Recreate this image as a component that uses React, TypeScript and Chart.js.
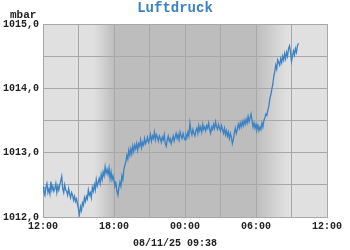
import React, { useEffect, useRef } from "react";
import { Chart, registerables } from "chart.js";

Chart.register(...registerables);

const TITLE = "Luftdruck";
const UNIT = "mbar";
const FOOTER = "08/11/25 09:38";
const X_TICK_LABELS = ["12:00", "18:00", "00:00", "06:00", "12:00"];
const Y_MIN = 1012;
const Y_MAX = 1015;
// samples every 5 minutes, hours after 12:00
const STEP_HOURS = 1 / 12;
const DUSK = [4.3, 6.0];
const DAWN = [18.0, 20.6];

const PRESSURE = [
  // 12:00
  1012.47, 1012.4, 1012.34, 1012.46, 1012.52, 1012.38, 1012.44, 1012.36, 1012.55, 1012.42, 1012.48, 1012.4,
  1012.44, 1012.52, 1012.38, 1012.48, 1012.42, 1012.5, 1012.56, 1012.63, 1012.44, 1012.38, 1012.5, 1012.42,
  1012.4, 1012.34, 1012.44, 1012.36, 1012.3, 1012.38, 1012.34, 1012.26, 1012.32, 1012.24, 1012.28, 1012.2,
  // 15:00
  1012.12, 1012.04, 1012.16, 1012.1, 1012.22, 1012.18, 1012.3, 1012.24, 1012.32, 1012.28, 1012.42, 1012.34,
  1012.38, 1012.3, 1012.46, 1012.4, 1012.5, 1012.42, 1012.58, 1012.48, 1012.54, 1012.6, 1012.52, 1012.66,
  1012.58, 1012.7, 1012.64, 1012.78, 1012.68, 1012.74, 1012.66, 1012.76, 1012.6, 1012.7, 1012.58, 1012.64,
  // 18:00
  1012.56, 1012.48, 1012.52, 1012.4, 1012.34, 1012.46, 1012.54, 1012.48, 1012.64, 1012.58, 1012.74, 1012.8,
  1012.86, 1012.96, 1012.9, 1013.04, 1012.96, 1013.06, 1012.98, 1013.1, 1013.02, 1013.12, 1013.06, 1013.14,
  1013.04, 1013.14, 1013.1, 1013.2, 1013.08, 1013.16, 1013.12, 1013.22, 1013.14, 1013.18, 1013.24, 1013.16,
  // 21:00
  1013.2, 1013.28, 1013.18, 1013.26, 1013.22, 1013.32, 1013.2, 1013.28, 1013.24, 1013.18, 1013.26, 1013.22,
  1013.16, 1013.24, 1013.2, 1013.28, 1013.14, 1013.1, 1013.2, 1013.26, 1013.18, 1013.22, 1013.14, 1013.2,
  1013.26, 1013.18, 1013.24, 1013.3, 1013.22, 1013.28, 1013.2, 1013.32, 1013.26, 1013.22, 1013.3, 1013.24,
  // 00:00
  1013.2, 1013.28, 1013.24, 1013.32, 1013.26, 1013.46, 1013.34, 1013.28, 1013.36, 1013.3, 1013.26, 1013.34,
  1013.38, 1013.3, 1013.42, 1013.34, 1013.4, 1013.32, 1013.44, 1013.36, 1013.4, 1013.34, 1013.42, 1013.38,
  1013.46, 1013.36, 1013.3, 1013.4, 1013.36, 1013.44, 1013.38, 1013.48, 1013.4, 1013.36, 1013.44, 1013.38,
  // 03:00
  1013.34, 1013.42, 1013.36, 1013.3, 1013.38, 1013.28, 1013.34, 1013.26, 1013.32, 1013.22, 1013.3, 1013.24,
  1013.14, 1013.2, 1013.3, 1013.38, 1013.3, 1013.36, 1013.44, 1013.38, 1013.46, 1013.4, 1013.48, 1013.42,
  1013.5, 1013.44, 1013.52, 1013.46, 1013.56, 1013.48, 1013.54, 1013.6, 1013.5, 1013.4, 1013.46, 1013.38,
  // 06:00
  1013.44, 1013.36, 1013.42, 1013.34, 1013.4, 1013.36, 1013.46, 1013.4, 1013.5, 1013.54, 1013.6, 1013.58,
  1013.66, 1013.72, 1013.84, 1013.9, 1013.98, 1014.06, 1014.18, 1014.26, 1014.36, 1014.3, 1014.44, 1014.4,
  1014.36, 1014.46, 1014.4, 1014.5, 1014.44, 1014.54, 1014.46, 1014.56, 1014.5, 1014.62, 1014.66, 1014.56,
  // 09:00
  1014.42, 1014.5, 1014.58, 1014.52, 1014.62, 1014.56, 1014.66, 1014.7,
];

const LINE_COLOR = "#3a82c4";
const MONO = "'Liberation Mono', 'DejaVu Sans Mono', monospace";

export default function App() {
  const ref = useRef<HTMLCanvasElement | null>(null);

  useEffect(() => {
    document.body.style.margin = "0";
    const canvas = ref.current;
    if (!canvas) return;

    const points = PRESSURE.map((v, i) => ({ x: i * STEP_HOURS, y: v }));

    const shading = {
      id: "shading",
      beforeDraw(chart: any) {
        const { ctx, chartArea: a, scales } = chart;
        const xs = scales.x;
        const light = "#e0e0e0";
        const dark = "#bdbdbd";
        ctx.save();
        ctx.fillStyle = light;
        ctx.fillRect(a.left, a.top, a.right - a.left, a.bottom - a.top);
        const d0 = xs.getPixelForValue(DUSK[0]);
        const d1 = xs.getPixelForValue(DUSK[1]);
        const n0 = xs.getPixelForValue(DAWN[0]);
        const n1 = xs.getPixelForValue(DAWN[1]);
        let g = ctx.createLinearGradient(d0, 0, d1, 0);
        g.addColorStop(0, light);
        g.addColorStop(1, dark);
        ctx.fillStyle = g;
        ctx.fillRect(d0, a.top, d1 - d0, a.bottom - a.top);
        ctx.fillStyle = dark;
        ctx.fillRect(d1, a.top, n0 - d1, a.bottom - a.top);
        g = ctx.createLinearGradient(n0, 0, n1, 0);
        g.addColorStop(0, dark);
        g.addColorStop(1, light);
        ctx.fillStyle = g;
        ctx.fillRect(n0, a.top, n1 - n0, a.bottom - a.top);
        ctx.restore();
      },
      afterDraw(chart: any) {
        const { ctx } = chart;
        ctx.save();
        ctx.textAlign = "center";
        ctx.textBaseline = "middle";
        ctx.fillStyle = LINE_COLOR;
        ctx.font = `bold 14px ${MONO}`;
        ctx.fillText(TITLE, 175, 8);
        ctx.fillStyle = "#222";
        ctx.font = `bold 11px ${MONO}`;
        ctx.textAlign = "left";
        ctx.fillText(UNIT, 10, 15);
        ctx.font = `bold 10px ${MONO}`;
        ctx.textAlign = "center";
        ctx.fillText(FOOTER, 175, 243);
        ctx.restore();
      },
    };

    const chart = new Chart(canvas, {
      type: "line",
      data: {
        datasets: [
          {
            data: points,
            borderColor: LINE_COLOR,
            borderWidth: 1.3,
            pointRadius: 0,
            tension: 0,
            fill: false,
          },
        ],
      },
      options: {
        animation: false,
        responsive: false,
        maintainAspectRatio: false,
        layout: { padding: { left: 3, right: 23, top: 24, bottom: 18 } },
        plugins: {
          legend: { display: false },
          tooltip: { enabled: false },
          title: { display: false },
        },
        scales: {
          x: {
            type: "linear",
            min: 0,
            max: 24,
            border: { color: "#a8a8a8" },
            grid: { color: "#a8a8a8", drawTicks: false },
            afterFit: (s: any) => {
              s.height = 15;
            },
            ticks: {
              stepSize: 3,
              padding: 3,
              maxRotation: 0,
              autoSkip: false,
              color: "#222",
              font: { family: MONO, size: 10, weight: "bold" },
              callback: (v: any) => {
                const n = Number(v);
                return n % 6 === 0 ? X_TICK_LABELS[n / 6] : "";
              },
            },
          },
          y: {
            min: Y_MIN,
            max: Y_MAX,
            border: { color: "#a8a8a8" },
            grid: { color: "#a8a8a8", drawTicks: false },
            afterFit: (s: any) => {
              s.width = 40;
            },
            ticks: {
              stepSize: 0.5,
              padding: 4,
              autoSkip: false,
              color: "#222",
              font: { family: MONO, size: 10, weight: "bold" },
              callback: (v: any) => {
                const n = Number(v);
                return Number.isInteger(n) ? n.toFixed(1).replace(".", ",") : "";
              },
            },
          },
        },
      },
      plugins: [shading],
    });

    return () => chart.destroy();
  }, []);

  return (
    <div style={{ position: "fixed", left: 0, top: 0, width: 350, height: 250, background: "#fff" }}>
      <canvas ref={ref} width={350} height={250} style={{ width: 350, height: 250 }} />
    </div>
  );
}
